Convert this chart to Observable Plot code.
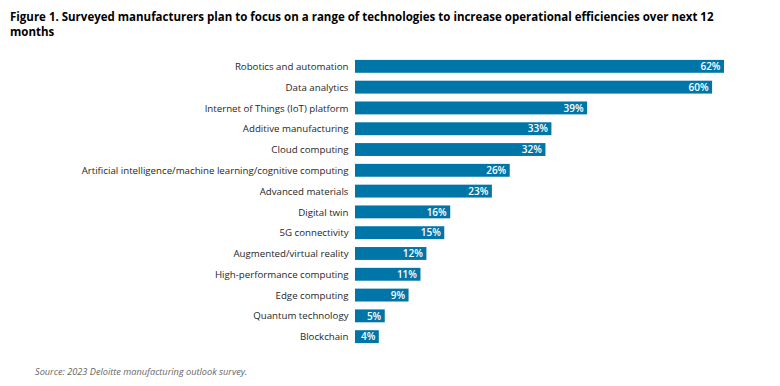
<!DOCTYPE html>
<html>
<head>
<meta charset="utf-8">
<script src="https://cdn.jsdelivr.net/npm/d3@7"></script>
<script src="https://cdn.jsdelivr.net/npm/@observablehq/plot@0.6"></script>
<style>
  body { margin: 0; background: #fff; width: 780px; height: 386px; position: relative; overflow: hidden; font-family: "Open Sans", sans-serif; }
  #title { position: absolute; left: 10px; top: 9px; font-size: 11.5px; font-weight: 700; line-height: 15px; color: #000; white-space: nowrap; }
  #chart { position: absolute; left: 0; top: 50px; }
  #caption { position: absolute; left: 35px; top: 365px; font-size: 9.2px; font-style: italic; color: #666; }
</style>
</head>
<body>
<div id="title">Figure 1. Surveyed manufacturers plan to focus on a range of technologies to increase operational efficiencies over next 12<br>months</div>
<div id="chart"></div>
<div id="caption">Source: 2023 Deloitte manufacturing outlook survey.</div>
<script>
const categories = [
  "Robotics and automation",
  "Data analytics",
  "Internet of Things (IoT) platform",
  "Additive manufacturing",
  "Cloud computing",
  "Artificial intelligence/machine learning/cognitive computing",
  "Advanced materials",
  "Digital twin",
  "5G connectivity",
  "Augmented/virtual reality",
  "High-performance computing",
  "Edge computing",
  "Quantum technology",
  "Blockchain"
];
const values = [62, 60, 39, 33, 32, 26, 23, 16, 15, 12, 11, 9, 5, 4];

const data = categories.map((c, i) => ({category: c, value: values[i]}));

const chart = Plot.plot({
  width: 780,
  height: 310,
  marginLeft: 355,
  marginRight: 56,
  marginTop: 2,
  marginBottom: 9,
  style: { fontFamily: "Open Sans, sans-serif", background: "#fff" },
  x: { domain: [0, 62], axis: null },
  y: { domain: categories, padding: 0.38, round: false, label: null },
  marks: [
    Plot.barX(data, { x: "value", y: "category", fill: "#0076A8" }),
    Plot.text(data, {
      x: "value", y: "category", text: d => d.value + "%",
      textAnchor: "end", dx: -4, fill: "#fff", fontSize: 10, fontWeight: 600
    }),
    Plot.axisY({ tickSize: 0, tickPadding: 7, fontSize: 9.7, fontWeight: 500, color: "#262626", label: null })
  ]
});
document.getElementById("chart").appendChild(chart);
</script>
</body>
</html>
